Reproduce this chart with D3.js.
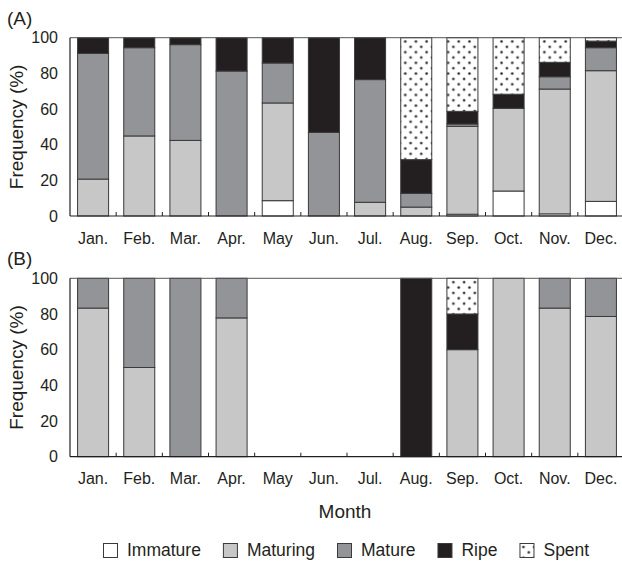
<!DOCTYPE html>
<html>
<head>
<meta charset="utf-8">
<script src="https://cdn.jsdelivr.net/npm/d3@7"></script>
<style>
  html, body { margin: 0; padding: 0; background: #fff; }
  svg { display: block; font-family: "Liberation Sans", Arial, sans-serif; }
</style>
</head>
<body>
<svg id="chart" width="622" height="562"></svg>
<script>
// Gonad maturity stages by month (percent of individuals)
const months = ["Jan.", "Feb.", "Mar.", "Apr.", "May", "Jun.", "Jul.", "Aug.", "Sep.", "Oct.", "Nov.", "Dec."];
const stages = ["Immature", "Maturing", "Mature", "Ripe", "Spent"];
const yTicks = [0, 20, 40, 60, 80, 100];

// Panel A
const immatureA = [0, 0, 0, 0, 8.6, 0, 0, 0, 1.0, 14.0, 1.2, 8.2];
const maturingA = [20.7, 44.9, 42.4, 0, 54.8, 0, 7.7, 5.0, 49.3, 46.4, 70.0, 73.3];
const matureA   = [70.5, 49.5, 53.7, 81.3, 22.4, 46.9, 68.8, 7.7, 1.3, 0, 6.9, 12.9];
const ripeA     = [8.8, 5.6, 3.9, 18.7, 14.2, 53.1, 23.5, 18.9, 7.1, 7.9, 8.1, 3.7];
const spentA    = [0, 0, 0, 0, 0, 0, 0, 68.4, 41.3, 31.7, 13.8, 1.9];

// Panel B
const immatureB = [0, 0, 0, 0, 0, 0, 0, 0, 0, 0, 0, 0];
const maturingB = [83.3, 50, 0, 77.8, 0, 0, 0, 0, 60, 100, 83.3, 78.6];
const matureB   = [16.7, 50, 100, 22.2, 0, 0, 0, 0, 0, 0, 16.7, 21.4];
const ripeB     = [0, 0, 0, 0, 0, 0, 0, 100, 20, 0, 0, 0];
const spentB    = [0, 0, 0, 0, 0, 0, 0, 0, 20, 0, 0, 0];

const svg = d3.select("#chart");
const ink = "#231f20";
const edge = "#3a3a3a";

// Dotted fill for the "Spent" stage
const defs = svg.append("defs");
const pat = defs.append("pattern")
  .attr("id", "dots")
  .attr("patternUnits", "userSpaceOnUse")
  .attr("width", 10.7).attr("height", 10.7)
  .attr("x", 2).attr("y", 2);
pat.append("rect").attr("width", 10.7).attr("height", 10.7).attr("fill", "#fff");
[[2, 2], [7.35, 7.35]].forEach(([cx, cy]) => {
  pat.append("circle").attr("cx", cx).attr("cy", cy).attr("r", 1.6).attr("fill", "#9a9a9a");
  pat.append("circle").attr("cx", cx).attr("cy", cy).attr("r", 1.0).attr("fill", "#222");
});

const fills = {
  Immature: "#ffffff",
  Maturing: "#c8c7c8",
  Mature: "#939497",
  Ripe: ink,
  Spent: "url(#dots)"
};

const x = d3.scaleBand()
  .domain(months)
  .range([70, 624])
  .paddingInner(0.328)
  .paddingOuter(0.164);

function buildRows(cols) {
  return months.map((m, i) => {
    const row = { month: m };
    stages.forEach((s, k) => { row[s] = cols[k][i]; });
    return row;
  });
}

function drawPanel(opts) {
  const { rows, top, bottom, label } = opts;
  const y = d3.scaleLinear().domain([0, 100]).range([bottom, top]);
  const g = svg.append("g");

  const series = d3.stack().keys(stages)(rows);

  series.forEach(s => {
    g.append("g")
      .selectAll("rect")
      .data(s.filter(d => d[1] - d[0] > 0))
      .join("rect")
      .attr("x", d => x(d.data.month))
      .attr("width", x.bandwidth())
      .attr("y", d => y(d[1]))
      .attr("height", d => y(d[0]) - y(d[1]))
      .attr("fill", fills[s.key])
      .attr("stroke", edge)
      .attr("stroke-width", 1);
  });

  // Frame: left axis, bottom axis, top line
  const x0 = x.range()[0], x1 = x.range()[1];
  g.append("line").attr("x1", x0).attr("x2", x1).attr("y1", top).attr("y2", top)
    .attr("stroke", "#555").attr("stroke-width", 1);
  g.append("line").attr("x1", x0).attr("x2", x1).attr("y1", bottom).attr("y2", bottom)
    .attr("stroke", ink).attr("stroke-width", 1.2);
  g.append("line").attr("x1", x0).attr("x2", x0).attr("y1", top).attr("y2", bottom)
    .attr("stroke", ink).attr("stroke-width", 1.2);

  // Category separators on the x axis (short inward ticks)
  const step = x.step();
  const sep = d3.range(1, months.length).map(k => x0 + k * step);
  g.append("g").selectAll("line").data(sep).join("line")
    .attr("x1", d => d).attr("x2", d => d)
    .attr("y1", bottom).attr("y2", bottom - 4)
    .attr("stroke", ink).attr("stroke-width", 1);

  // Month labels
  g.append("g").selectAll("text").data(months).join("text")
    .attr("x", d => x(d) + x.bandwidth() / 2)
    .attr("y", bottom + 27.5)
    .attr("text-anchor", "middle")
    .attr("font-size", 16)
    .attr("fill", ink)
    .text(d => d);

  // Y tick labels
  g.append("g").selectAll("text").data(yTicks).join("text")
    .attr("x", 58)
    .attr("y", d => y(d))
    .attr("dy", "0.36em")
    .attr("text-anchor", "end")
    .attr("font-size", 16)
    .attr("fill", ink)
    .text(d => d);

  // Y axis title
  g.append("text")
    .attr("transform", `translate(23,${(top + bottom) / 2}) rotate(-90)`)
    .attr("text-anchor", "middle")
    .attr("font-size", 19)
    .attr("fill", ink)
    .text("Frequency (%)");

  // Panel letter
  g.append("text")
    .attr("x", 7)
    .attr("y", top - 13)
    .attr("font-size", 19)
    .attr("fill", ink)
    .text(label);
}

drawPanel({ rows: buildRows([immatureA, maturingA, matureA, ripeA, spentA]), top: 37.7, bottom: 216, label: "(A)" });
drawPanel({ rows: buildRows([immatureB, maturingB, matureB, ripeB, spentB]), top: 278.3, bottom: 456.7, label: "(B)" });

// X axis title
svg.append("text")
  .attr("x", 345)
  .attr("y", 518)
  .attr("text-anchor", "middle")
  .attr("font-size", 19)
  .attr("fill", ink)
  .text("Month");

// Legend
const legend = svg.append("g").attr("transform", "translate(103,543)");
let cursor = 0;
stages.forEach(s => {
  const item = legend.append("g").attr("transform", `translate(${cursor},0)`);
  item.append("rect")
    .attr("x", 0.5).attr("y", 0.5)
    .attr("width", 14).attr("height", 14)
    .attr("fill", fills[s])
    .attr("stroke", edge)
    .attr("stroke-width", 1);
  const t = item.append("text")
    .attr("x", 24)
    .attr("y", 13)
    .attr("font-size", 17.5)
    .attr("fill", ink)
    .text(s);
  cursor += 24 + t.node().getComputedTextLength() + 22;
});
</script>
</body>
</html>
